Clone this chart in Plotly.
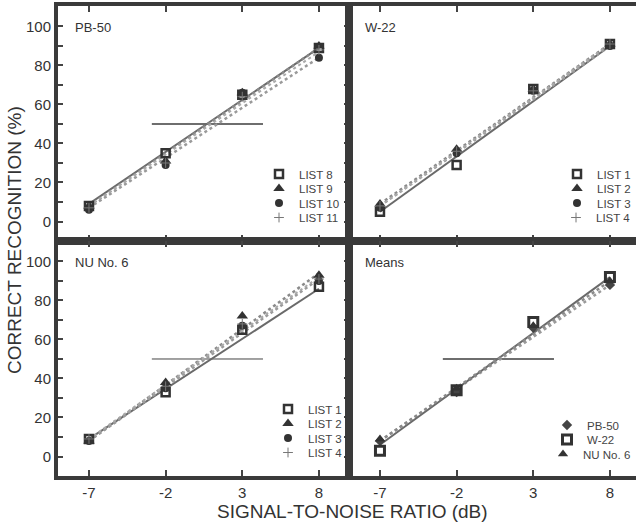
import plotly.graph_objects as go
from plotly.subplots import make_subplots

# ---------------- data ----------------
snr = [-7, -2, 3, 8]            # signal-to-noise ratio (dB)
fit_snr = [-7, 8]               # extent of fitted lines
x_tick_labels = ["-7", "-2", "3", "8"]
y_tick_vals = [0, 20, 40, 60, 80, 100]

# PB-50
pb50_names = ["LIST 8", "LIST 9", "LIST 10", "LIST 11"]
pb50_list8 = [8, 35, 65, 89]
pb50_list9 = [8, 31, 66, 90]
pb50_list10 = [6, 29, 66, 84]
pb50_list11 = [7, 30, 64, 88]
pb50_fit_lo = [9, 8, 7, 8]
pb50_fit_hi = [89, 89, 84, 87]

# W-22
w22_names = ["LIST 1", "LIST 2", "LIST 3", "LIST 4"]
w22_list1 = [5, 29, 68, 91]
w22_list2 = [9, 37, 68, 91]
w22_list3 = [7, 35, 67, 90]
w22_list4 = [8, 36, 67, 91]
w22_fit_lo = [5, 9, 8, 8]
w22_fit_hi = [90, 91, 90, 91]

# NU No. 6
nu6_names = ["LIST 1", "LIST 2", "LIST 3", "LIST 4"]
nu6_list1 = [9, 33, 65, 87]
nu6_list2 = [8, 38, 72, 93]
nu6_list3 = [8, 35, 67, 90]
nu6_list4 = [9, 36, 68, 91]
nu6_fit_lo = [9, 8, 8, 9]
nu6_fit_hi = [86, 94, 91, 92]

# Means
means_names = ["PB-50", "W-22", "NU No. 6"]
means_pb50 = [8, 33, 66, 88]
means_w22 = [3, 34, 69, 92]
means_nu6 = [9, 35, 67, 90]
means_fit_lo = [8, 6, 8]
means_fit_hi = [88, 92, 90]

# 50 % reference segments
ref_level = 50
ref_x = [-2.9, 4.35]

# ---------------- styles ----------------
FONT = "Liberation Sans, Arial, Helvetica, sans-serif"
FRAME = "#3a3a3a"
list_markers = [
    dict(symbol="square-open", size=8, color="#333", line=dict(width=2.5, color="#333")),
    dict(symbol="triangle-up", size=10, color="#333"),
    dict(symbol="circle", size=8, color="#333"),
    dict(symbol="cross-thin", size=7, color="#777", line=dict(width=1, color="#777")),
]
list_lines = [
    dict(color="#6a6a6a", width=2, dash="solid"),
    dict(color="#8a8a8a", width=2.5, dash="dot"),
    dict(color="#9a9a9a", width=2.5, dash="dot"),
    dict(color="#aaaaaa", width=2, dash="dot"),
]
means_markers = [
    dict(symbol="diamond", size=8, color="#444"),
    dict(symbol="square-open", size=9, color="#333", line=dict(width=3, color="#333")),
    dict(symbol="triangle-up", size=9, color="#333"),
]
means_lines = [
    dict(color="#9a9a9a", width=2.5, dash="dot"),
    dict(color="#6a6a6a", width=2, dash="solid"),
    dict(color="#8a8a8a", width=2.5, dash="dot"),
]

# legend placement (pixel anchors on the 636x523 canvas): symbol x, first row y,
# and per-row anchoring (True = flush with right edge)
panels = [
    dict(row=1, col=1, title="PB-50", names=pb50_names,
         series=[pb50_list8, pb50_list9, pb50_list10, pb50_list11],
         lo=pb50_fit_lo, hi=pb50_fit_hi, markers=list_markers, lines=list_lines,
         ref=dict(color="#6e6e6e", width=2),
         leg=dict(sx=280, y0=174, right=[False] * 4)),
    dict(row=1, col=2, title="W-22", names=w22_names,
         series=[w22_list1, w22_list2, w22_list3, w22_list4],
         lo=w22_fit_lo, hi=w22_fit_hi, markers=list_markers, lines=list_lines,
         ref=None, leg=dict(sx=582, y0=174, right=[True] * 4)),
    dict(row=2, col=1, title="NU No. 6", names=nu6_names,
         series=[nu6_list1, nu6_list2, nu6_list3, nu6_list4],
         lo=nu6_fit_lo, hi=nu6_fit_hi, markers=list_markers, lines=list_lines,
         ref=dict(color="#444", width=1),
         leg=dict(sx=289, y0=409, right=[False] * 4)),
    dict(row=2, col=2, title="Means", names=means_names,
         series=[means_pb50, means_w22, means_nu6],
         lo=means_fit_lo, hi=means_fit_hi, markers=means_markers, lines=means_lines,
         ref=dict(color="#6e6e6e", width=2),
         leg=dict(sx=568, y0=425, right=[False, False, True])),
]
ROW_STEP = 14.5

fig = make_subplots(rows=2, cols=2, horizontal_spacing=0, vertical_spacing=0)

PW, PH = 636, 523
L, T, B = 58, 6, 47
plot_w = PW - L
plot_h = PH - T - B
bottom_px = PH - B


def px_x(px):
    return (px - L) / plot_w


def px_y(py):
    return (bottom_px - py) / plot_h


leg_font = dict(family=FONT, size=11.5, color="#444")
legend_layouts = {}
leg_idx = 0
for p in panels:
    r, c = p["row"], p["col"]
    if p["ref"] is not None:
        fig.add_trace(go.Scatter(x=ref_x, y=[ref_level, ref_level], mode="lines",
                                 line=p["ref"], showlegend=False, hoverinfo="skip"),
                      row=r, col=c)
    for i, name in enumerate(p["names"]):
        fig.add_trace(go.Scatter(x=fit_snr, y=[p["lo"][i], p["hi"][i]], mode="lines",
                                 line=p["lines"][i], showlegend=False, hoverinfo="skip"),
                      row=r, col=c)
    for i, name in enumerate(p["names"]):
        leg_idx += 1
        key = "legend" if leg_idx == 1 else f"legend{leg_idx}"
        fig.add_trace(go.Scatter(x=snr, y=p["series"][i], mode="markers", name=name,
                                 marker=p["markers"][i], legend=key),
                      row=r, col=c)
        row_y = p["leg"]["y0"] + i * ROW_STEP
        if p["leg"]["right"][i]:
            lx, xa = 1.0, "right"
        else:
            lx, xa = px_x(p["leg"]["sx"] - 21), "left"
        legend_layouts[key] = dict(x=lx, xanchor=xa, y=px_y(row_y), yanchor="middle",
                                   bgcolor="rgba(0,0,0,0)", borderwidth=0,
                                   font=leg_font, itemwidth=30, tracegroupgap=0)

# ---------------- axes ----------------
mid_frac = 291 / plot_w
xr_left = [-9.02, 9.96]
xr_right = [-9.02, 9.70]
yr = [-10, 110.5]

for r in (1, 2):
    for c in (1, 2):
        fig.update_xaxes(row=r, col=c,
                         domain=[0, mid_frac] if c == 1 else [mid_frac, 1],
                         range=xr_left if c == 1 else xr_right,
                         tickvals=snr, ticktext=x_tick_labels,
                         showticklabels=(r == 2),
                         ticks="inside", ticklen=6, tickwidth=1.5, tickcolor="#444",
                         showline=True, linewidth=4, linecolor=FRAME, mirror="ticks",
                         showgrid=False, zeroline=False,
                         tickfont=dict(family=FONT, size=15, color="#333"))
        yargs = dict(range=yr, showgrid=False, zeroline=False,
                     showline=True, linewidth=4, linecolor=FRAME,
                     domain=[0.5, 1] if r == 1 else [0, 0.5])
        if c == 1:
            yargs.update(tickvals=y_tick_vals, ticks="inside", ticklen=5, tickwidth=1.5,
                         tickcolor="#444", mirror="ticks", showticklabels=True,
                         minor=dict(dtick=10, ticks="inside", ticklen=5, tickwidth=1.5,
                                    tickcolor="#444", showgrid=False),
                         tickfont=dict(family=FONT, size=15, color="#333"))
        else:
            yargs.update(ticks="", showticklabels=False, mirror=False)
        fig.update_yaxes(row=r, col=c, **yargs)

fig.update_layout(**legend_layouts)

# ---------------- annotations ----------------
axis_ids = {(1, 1): ("x", "y"), (1, 2): ("x2", "y2"), (2, 1): ("x3", "y3"), (2, 2): ("x4", "y4")}
for p in panels:
    xa, ya = axis_ids[(p["row"], p["col"])]
    fig.add_annotation(text=p["title"], xref=f"{xa} domain", yref=f"{ya} domain",
                       x=0.05, y=0.91, xanchor="left", yanchor="middle", showarrow=False,
                       font=dict(family=FONT, size=13, color="#333"))

fig.add_annotation(text="SIGNAL-TO-NOISE RATIO (dB)", xref="paper", yref="paper",
                   x=px_x(352), y=px_y(512), xanchor="center", yanchor="middle",
                   showarrow=False, font=dict(family=FONT, size=19, color="#333"))
fig.add_annotation(text="CORRECT RECOGNITION (%)", xref="paper", yref="paper",
                   x=px_x(14), y=px_y(240), xanchor="center", yanchor="middle",
                   textangle=-90, showarrow=False, font=dict(family=FONT, size=19, color="#333"))

fig.update_layout(width=PW, height=PH,
                  margin=dict(l=L, r=0, t=T, b=B, pad=0),
                  paper_bgcolor="white", plot_bgcolor="white",
                  font=dict(family=FONT, color="#333"))

fig.write_html("out.html", config={"displayModeBar": False},
               post_script="document.body.style.margin='0px';document.body.style.overflow='hidden';")
